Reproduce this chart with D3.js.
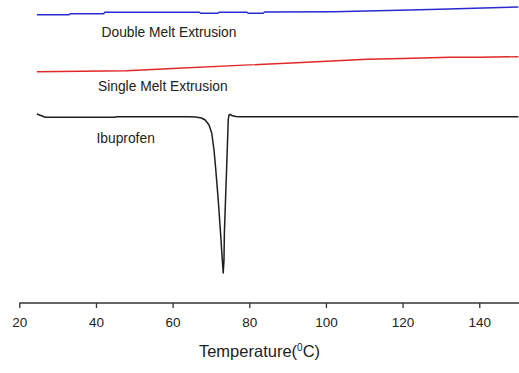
<!DOCTYPE html>
<html><head><meta charset="utf-8">
<script src="https://cdn.jsdelivr.net/npm/d3@7"></script>
<style>body{margin:0;background:#fff;} svg{display:block;}</style>
</head><body>
<svg id="c" width="519" height="373"></svg>
<script>
// Temperature (°C) and heat-flow offsets (arbitrary units)
const xTicks = [20, 40, 60, 80, 100, 120, 140];

const doubleT = [24.6, 33, 33.3, 42, 42.3, 67, 67.3, 71.8, 72.1, 79.4, 79.7, 83.6, 84, 102, 122, 132, 141, 150.2];
const doubleV = [288.3, 288.3, 289.3, 289.3, 290.7, 290.7, 289.7, 289.7, 290.7, 290.7, 289.7, 289.7, 291, 291.3, 293, 294, 295, 296];

const singleT = [24.6, 48, 60, 80, 95, 110.7, 120, 132.4, 140, 150.2];
const singleV = [231.3, 232.3, 234.5, 238.1, 240.8, 243.7, 244.5, 245.7, 245.8, 246.3];

const ibuT = [24.6, 26.8, 45, 45.3, 64, 66, 67.5, 68.5, 69.5, 70.2, 70.8, 71.2, 71.9, 72.5, 73.0, 73.2, 73.4, 73.5, 73.8, 74.1, 74.4, 74.5, 74.7, 75, 75.6, 76.5, 77.6, 150.2];
const ibuV = [189, 185.7, 185.7, 186.3, 186.3, 186, 185, 183, 178, 170, 153, 136, 103, 70, 41, 30, 43, 70, 103, 136, 170, 183, 188, 188.7, 187.2, 186.5, 186.3, 186.3];

const labels = ["Double Melt Extrusion", "Single Melt Extrusion", "Ibuprofen"];

const svg = d3.select("#c");
const x = d3.scaleLinear().domain([20, 150]).range([19.3, 517.6]);
const y = d3.scaleLinear().domain([0, 300]).range([303, 3]);

const line = d3.line().x(d => x(d[0])).y(d => y(d[1]));
const series = [
  {t: doubleT, v: doubleV, color: "#2a2ad0", w: 1.4},
  {t: singleT, v: singleV, color: "#e02828", w: 1.4},
  {t: ibuT, v: ibuV, color: "#1e1e1e", w: 1.5}
];
series.forEach(s => {
  svg.append("path")
    .datum(s.t.map((t, i) => [t, s.v[i]]))
    .attr("d", line)
    .attr("fill", "none")
    .attr("stroke", s.color)
    .attr("stroke-width", s.w)
    .attr("stroke-linejoin", "round");
});

// labels
const labelPos = [[101.5, 37.3], [98, 90.5], [96.5, 142.5]];
labels.forEach((l, i) => {
  svg.append("text").attr("x", labelPos[i][0]).attr("y", labelPos[i][1])
    .attr("font-family", "Liberation Sans, Arial, sans-serif")
    .attr("font-size", 13.8).attr("fill", "#222").text(l);
});

// x axis
const ax = svg.append("g").attr("transform", "translate(0,303)")
  .call(d3.axisBottom(x).tickValues(xTicks).tickSize(5).tickSizeOuter(0).tickPadding(9));
ax.select(".domain").attr("stroke", "#333").attr("stroke-width", 1.3).attr("d", "M19.3,0H519");
ax.selectAll(".tick line").attr("stroke", "#333").attr("stroke-width", 1.3);
ax.selectAll(".tick text").attr("font-family", "Liberation Sans, Arial, sans-serif")
  .attr("font-size", 13.5).attr("fill", "#222");

const title = svg.append("text").attr("x", 259.5).attr("y", 357)
  .attr("text-anchor", "middle")
  .attr("font-family", "Liberation Sans, Arial, sans-serif")
  .attr("font-size", 16.5).attr("fill", "#222");
title.append("tspan").text("Temperature(");
title.append("tspan").attr("dy", -6).attr("font-size", 10).text("0");
title.append("tspan").attr("dy", 6).text("C)");
</script>
</body></html>
